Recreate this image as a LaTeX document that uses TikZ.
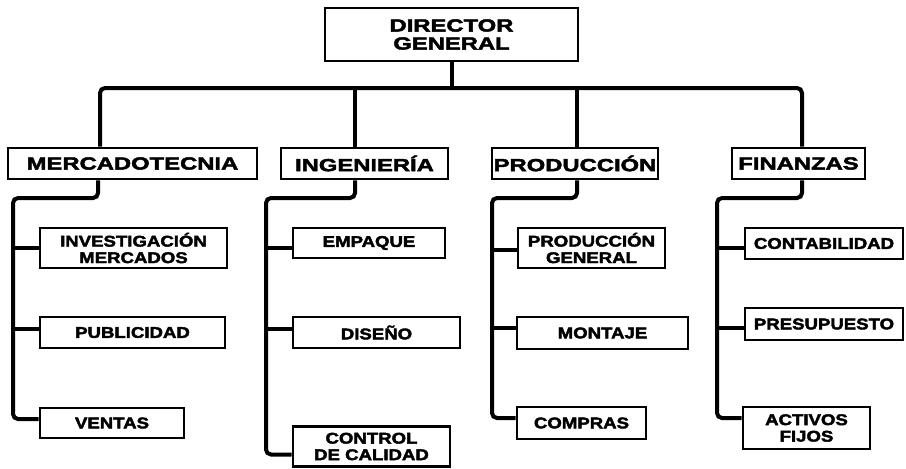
\documentclass[tikz,border=0pt]{standalone}
\usepackage{fontspec}
\newfontfamily\orgfont{Liberation Sans Bold}[FakeStretch=1.2,FakeBold=2.6]
\newfontfamily\areafont{Liberation Sans Bold}[FakeStretch=1.36,FakeBold=2.6]
\tikzset{
  unidad/.style={draw,line width=2.8pt,align=center,inner sep=0pt,fill=white,
    font=\orgfont\fontsize{15.5}{16.5}\selectfont},
  area/.style={unidad,font=\areafont\fontsize{17.5}{18}\selectfont},
  enlace/.style={line width=4pt,rounded corners=5pt}
}
\begin{document}
\begin{tikzpicture}[x=1pt,y=-1pt]
\useasboundingbox (0,0) rectangle (906,469);
\node[area,minimum width=253,minimum height=53] (dg) at (451.5,34.5) {DIRECTOR\\GENERAL};
\node[area,minimum width=249,minimum height=31] (mer) at (132.5,163.5) {MERCADOTECNIA};
\node[area,minimum width=167,minimum height=31] (ing) at (364.5,163.5) {INGENIERÍA};
\node[area,minimum width=166,minimum height=31] (pro) at (575,163.5) {PRODUCCIÓN};
\node[area,minimum width=133,minimum height=31] (fin) at (798.5,163.5) {FINANZAS};

\node[unidad,minimum width=187,minimum height=40] (inv) at (133.5,248) {INVESTIGACIÓN\\MERCADOS};
\node[unidad,minimum width=185,minimum height=31] (pub) at (132.5,332.5) {PUBLICIDAD};
\node[unidad,minimum width=144,minimum height=30] (ven) at (112,423) {VENTAS};
\node[unidad,minimum width=152,minimum height=30] (emp) at (369,243) {EMPAQUE};
\node[unidad,minimum width=167,minimum height=31] (dis) at (376.5,332.5) {DISEÑO};
\node[unidad,minimum width=157,minimum height=40] (cal) at (371.5,446.5) {CONTROL\\DE CALIDAD};
\node[unidad,minimum width=147,minimum height=40] (gen) at (591.5,248) {PRODUCCIÓN\\GENERAL};
\node[unidad,minimum width=171,minimum height=32] (mon) at (602.5,333) {MONTAJE};
\node[unidad,minimum width=129,minimum height=32] (com) at (581.5,423) {COMPRAS};
\node[unidad,minimum width=158,minimum height=31] (con) at (824,243.5) {CONTABILIDAD};
\node[unidad,minimum width=158,minimum height=32] (pre) at (824,324) {PRESUPUESTO};
\node[unidad,minimum width=127,minimum height=42] (act) at (806.5,428) {ACTIVOS\\FIJOS};

\coordinate (bus) at (0,88);
\coordinate (mtop) at ([xshift=-32.5pt]mer.north);
\coordinate (itop) at ([xshift=-9.5pt]ing.north);
\coordinate (ptop) at ([xshift=2pt]pro.north);
\coordinate (ftop) at ([xshift=3.5pt]fin.north);
\draw[enlace] (dg.south) -- (dg.south |- bus);
\draw[enlace] (mtop) -- (mtop |- bus) -- (ftop |- bus) -- (ftop);
\draw[enlace] (itop |- bus) -- (itop);
\draw[enlace] (ptop |- bus) -- (ptop);

\coordinate (mx) at (13,198);
\coordinate (ix) at (266,198);
\coordinate (px) at (492,198);
\coordinate (fx) at (717,198);
\draw[enlace] ([xshift=-34.5pt]mer.south) |- (mx) |- ([yshift=4pt]ven.west);
\draw[enlace] ([xshift=-9.5pt]ing.south) |- (ix) |- ([yshift=-8pt]cal.west);
\draw[enlace] ([xshift=2pt]pro.south) |- (px) |- ([yshift=5pt]com.west);
\draw[enlace] ([xshift=3.5pt]fin.south) |- (fx) |- ([yshift=10pt]act.west);
\foreach \t/\c/\d in {mx/inv/0,mx/pub/4,ix/emp/-5,ix/dis/4,px/gen/-2,px/mon/5,fx/con/-4,fx/pre/-4}{
  \coordinate (pt) at ([yshift=\d pt]\c.west);
  \draw[enlace] (\t |- pt) -- (pt);
}
\end{tikzpicture}
\end{document}
